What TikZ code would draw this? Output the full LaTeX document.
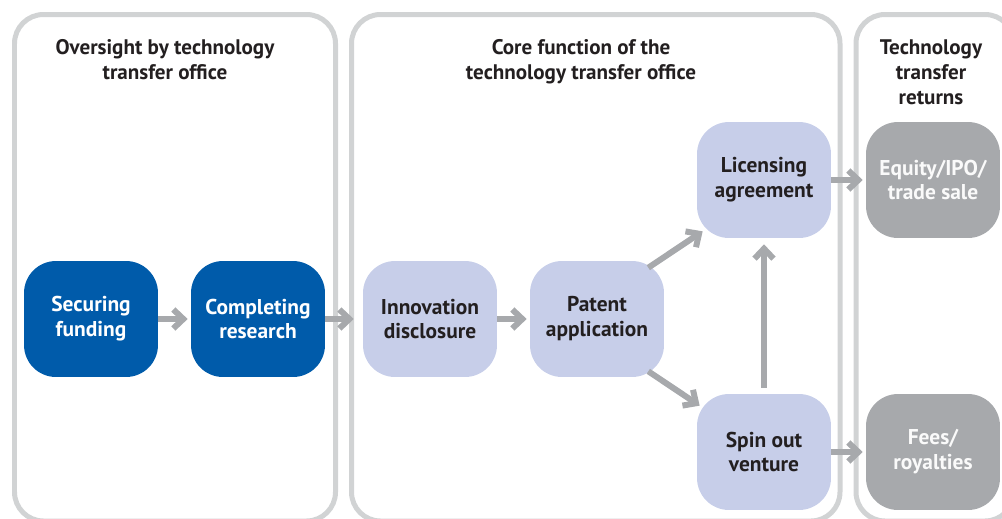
\documentclass[tikz,border=0pt]{standalone}
\usepackage{fontspec}
\setmainfont{PT Sans}
\usetikzlibrary{arrows.meta,calc}
\definecolor{ttoblue}{RGB}{0,91,170}
\definecolor{ttolav}{RGB}{199,206,233}
\definecolor{ttogray}{RGB}{167,169,172}
\definecolor{panelgray}{RGB}{209,211,212}
\definecolor{textdark}{RGB}{35,31,32}
\tikzset{
    stage/.style={rectangle,rounded corners=0.64cm,minimum width=2.68cm,minimum height=2.32cm,align=center,font=\bfseries\fontsize{12.2}{14.2}\selectfont},
    oversee/.style={stage,fill=ttoblue,text=white},
    core/.style={stage,fill=ttolav,text=textdark},
    payoff/.style={stage,fill=ttogray,text=white!94!ttogray},
    panel/.style={draw=panelgray,line width=0.1cm,rounded corners=0.58cm},
    heading/.style={align=center,anchor=north,inner sep=0pt,text=textdark,font=\bfseries\fontsize{12}{14.2}\selectfont},
    flow/.style={draw=ttogray,line width=0.12cm,-{Straight Barb[length=0.2cm,width=0.38cm]}}
}

\begin{document}
\begin{tikzpicture}[x=0.02cm,y=-0.02cm]
\clip (0,0) rectangle (1002,518);
\useasboundingbox (0,0) rectangle (1002,518);

% Ba khung lớn
\draw[panel] (14.5,14.5) rectangle (335.5,521);
\draw[panel] (351.5,14.5) rectangle (840,521);
\draw[panel] (856,14.5) rectangle (1014,521);

% Tiêu đề các khung
\node[heading] (headL) at (165,39.5) {Oversight by technology\\transfer office};
\node[heading] (headM) at (581,39.5) {Core function of the\\technology transfer office};
\node[heading] (headR) at (931,39.5) {Technology\\transfer\\returns};

% Các bước
\node[oversee] (fund) at (91,319) {Securing\\funding};
\node[oversee] (research) at (258,319) {Completing\\research};
\node[core] (disclose) at (430,319) {Innovation\\disclosure};
\node[core] (patent) at (597,319) {Patent\\application};
\node[core] (licence) at (764,180) {Licensing\\agreement};
\node[core] (spinout) at (764,452) {Spin out\\venture};
\node[payoff] (equity) at (933,180) {Equity/IPO/\\trade sale};
\node[payoff] (fees) at (933,452) {Fees/\\royalties};

% Các mũi tên
\draw[flow, shorten >=1.7pt] (fund) -- (research);
\draw[flow, shorten >=5.1pt] (research) -- (disclose);
\draw[flow, shorten >=1.7pt] (disclose) -- (patent);
\draw[flow] ($(patent.north east)+(-16,7)$) -- ($(licence.south west)+(6,-7)$);
\draw[flow] ($(patent.south east)+(-16,-6)$) -- ($(spinout.north west)+(3,12)$);
\draw[flow, shorten <=3.4pt, shorten >=3.4pt] (spinout) -- (licence);
\draw[flow, shorten >=1.7pt] (licence) -- (equity);
\draw[flow, shorten >=1.7pt] (spinout) -- (fees);
\end{tikzpicture}
\end{document}
